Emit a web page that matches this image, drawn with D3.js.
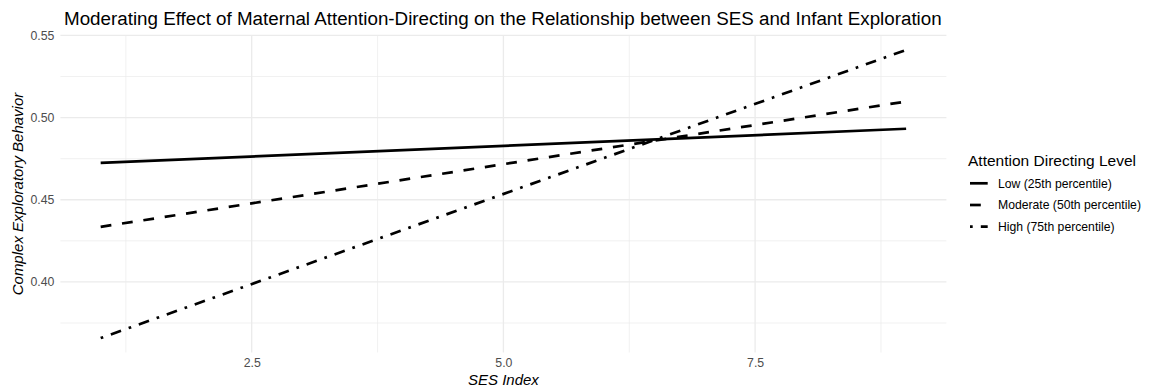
<!DOCTYPE html>
<html>
<head>
<meta charset="utf-8">
<script src="https://cdn.jsdelivr.net/npm/d3@7"></script>
<style>
  html, body { margin: 0; padding: 0; background: #fff; }
  svg { display: block; font-family: "Liberation Sans", Arial, sans-serif; }
</style>
</head>
<body>
<svg id="chart" width="1152" height="387"></svg>
<script>
// Predicted exploratory behaviour at the ends of the SES range, by attention-directing level
const sesValues = [1, 9];
const lowValues = [0.4724, 0.4932];
const moderateValues = [0.4335, 0.5098];
const highValues = [0.3658, 0.5412];
const seriesNames = ["Low (25th percentile)", "Moderate (50th percentile)", "High (75th percentile)"];
const xTicks = [2.5, 5.0, 7.5];
const yTicks = [0.40, 0.45, 0.50, 0.55];

const dashes = ["none", "10.8,10.8", "2.7,8.1,10.8,8.1"];
const series = [lowValues, moderateValues, highValues].map((vals, i) => ({
  name: seriesNames[i],
  dash: dashes[i],
  points: sesValues.map((s, j) => ({ x: s, y: vals[j] }))
}));

const svg = d3.select("#chart");
const panel = { left: 60.4, right: 946.4, top: 35.5, bottom: 352.5 };

// ggplot-style 5% expansion of the data range
function expanded(ext) {
  const pad = (ext[1] - ext[0]) * 0.05;
  return [ext[0] - pad, ext[1] + pad];
}
const allY = lowValues.concat(moderateValues, highValues);
const x = d3.scaleLinear().domain(expanded(d3.extent(sesValues))).range([panel.left, panel.right]);
const y = d3.scaleLinear().domain(expanded(d3.extent(allY))).range([panel.bottom, panel.top]);

// minor grid
const xMinor = [1.25, 3.75, 6.25, 8.75];
const yMinor = [0.375, 0.425, 0.475, 0.525];
const grid = svg.append("g");
grid.selectAll(".xminor").data(xMinor).join("line")
  .attr("x1", d => x(d)).attr("x2", d => x(d))
  .attr("y1", panel.top).attr("y2", panel.bottom)
  .attr("stroke", "#ebebeb").attr("stroke-width", 0.7);
grid.selectAll(".yminor").data(yMinor).join("line")
  .attr("x1", panel.left).attr("x2", panel.right)
  .attr("y1", d => y(d)).attr("y2", d => y(d))
  .attr("stroke", "#ebebeb").attr("stroke-width", 0.7);
// major grid
grid.selectAll(".xmajor").data(xTicks).join("line")
  .attr("x1", d => x(d)).attr("x2", d => x(d))
  .attr("y1", panel.top).attr("y2", panel.bottom)
  .attr("stroke", "#ebebeb").attr("stroke-width", 1.3);
grid.selectAll(".ymajor").data(yTicks).join("line")
  .attr("x1", panel.left).attr("x2", panel.right)
  .attr("y1", d => y(d)).attr("y2", d => y(d))
  .attr("stroke", "#ebebeb").attr("stroke-width", 1.3);

// axes (labels only, no lines/ticks)
const xAxis = svg.append("g")
  .attr("transform", `translate(0,${panel.bottom})`)
  .call(d3.axisBottom(x).tickValues(xTicks).tickFormat(d3.format(".1f")).tickSize(0).tickPadding(6));
const yAxis = svg.append("g")
  .attr("transform", `translate(${panel.left},0)`)
  .call(d3.axisLeft(y).tickValues(yTicks).tickFormat(d3.format(".2f")).tickSize(0).tickPadding(6));
[xAxis, yAxis].forEach(a => {
  a.select(".domain").remove();
  a.selectAll("text").attr("fill", "#4d4d4d").attr("font-size", 12.3)
    .attr("font-family", "Liberation Sans, Arial, sans-serif");
});

// lines
const line = d3.line().x(d => x(d.x)).y(d => y(d.y));
svg.append("g").selectAll("path").data(series).join("path")
  .attr("d", d => line(d.points))
  .attr("fill", "none")
  .attr("stroke", "#000")
  .attr("stroke-width", 2.7)
  .attr("stroke-linecap", "butt")
  .attr("stroke-dasharray", d => d.dash);

// titles
svg.append("text")
  .attr("x", 64).attr("y", 25.3)
  .attr("font-size", 18.8).attr("fill", "#000")
  .text("Moderating Effect of Maternal Attention-Directing on the Relationship between SES and Infant Exploration");
svg.append("text")
  .attr("x", (panel.left + panel.right) / 2).attr("y", 385)
  .attr("text-anchor", "middle").attr("font-size", 15).attr("font-style", "italic").attr("fill", "#000")
  .text("SES Index");
svg.append("text")
  .attr("transform", `translate(23,${(panel.top + panel.bottom) / 2}) rotate(-90)`)
  .attr("text-anchor", "middle").attr("font-size", 15).attr("font-style", "italic").attr("fill", "#000")
  .text("Complex Exploratory Behavior");

// legend
const legend = svg.append("g").attr("transform", "translate(968,0)");
legend.append("text").attr("x", 0).attr("y", 165.5)
  .attr("font-size", 15.5).attr("fill", "#000").text("Attention Directing Level");
const items = legend.selectAll(".item").data(series).join("g")
  .attr("transform", (d, i) => `translate(0,${183.3 + i * 21.7})`);
items.append("line")
  .attr("x1", 2).attr("x2", 19.7).attr("y1", 0).attr("y2", 0)
  .attr("stroke", "#000").attr("stroke-width", 2.7)
  .attr("stroke-dasharray", d => d.dash);
items.append("text").attr("x", 30).attr("y", 4.3)
  .attr("font-size", 12.2).attr("fill", "#000").text(d => d.name);
</script>
</body>
</html>
